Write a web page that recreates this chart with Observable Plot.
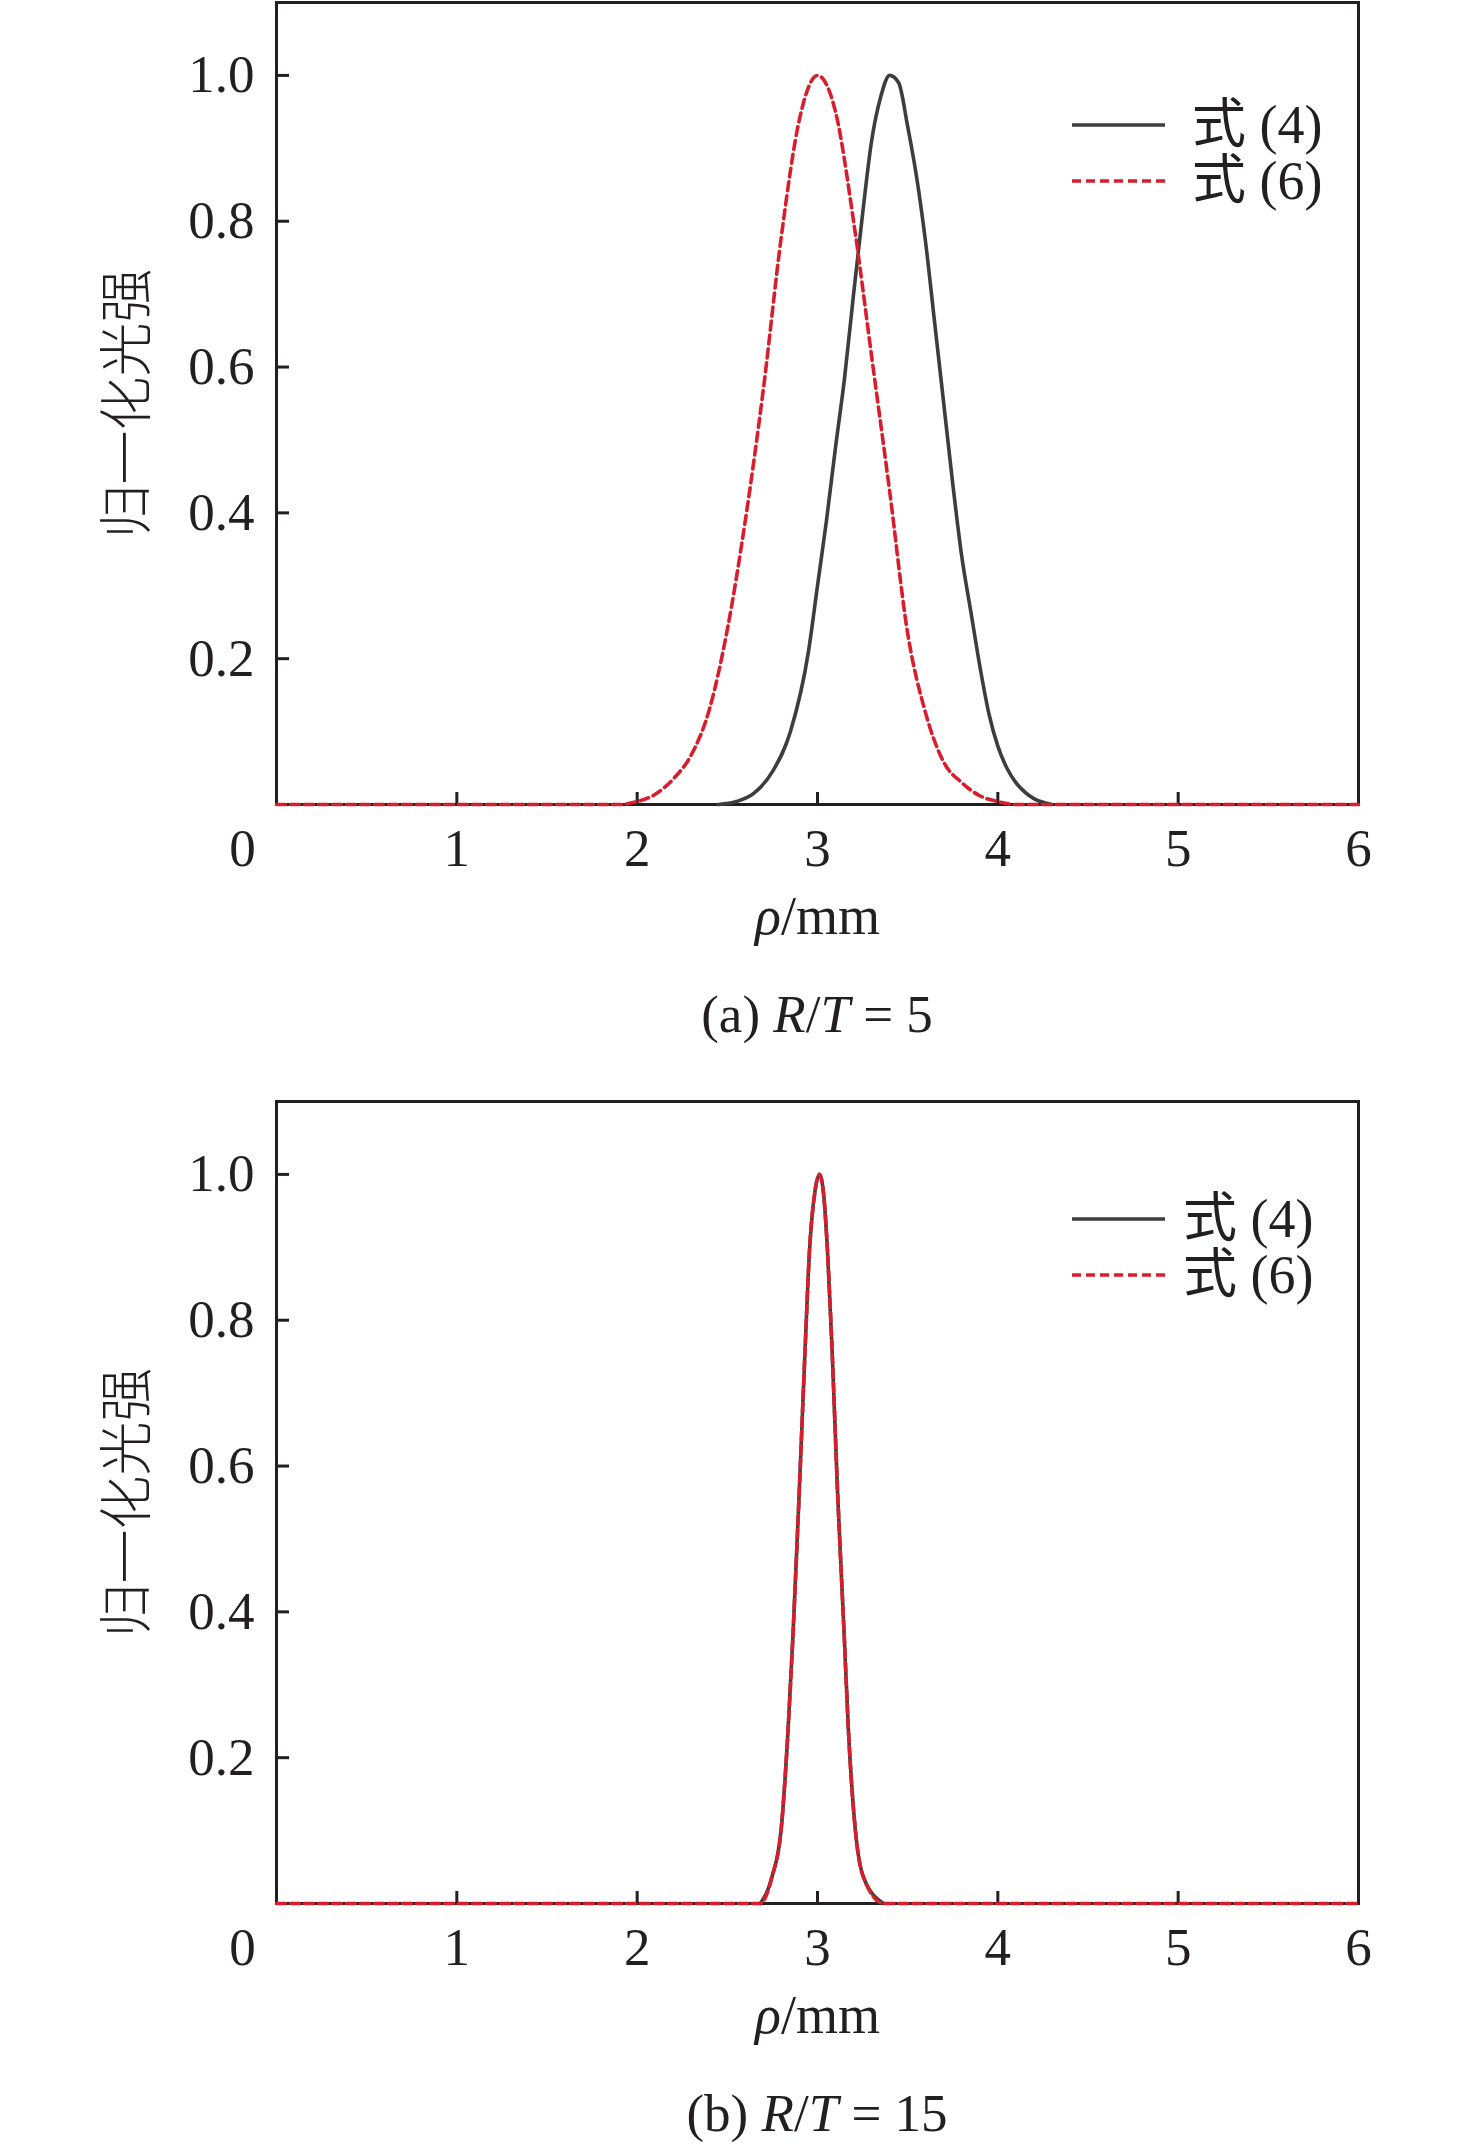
<!DOCTYPE html>
<html>
<head>
<meta charset="utf-8">
<script src="https://cdn.jsdelivr.net/npm/d3@7"></script>
<script src="https://cdn.jsdelivr.net/npm/@observablehq/plot@0.6"></script>
<style>
  html, body { margin: 0; padding: 0; background: #fff; }
  #root { width: 1476px; }
  .panel { position: relative; width: 1476px; }
  .caption { position: relative; width: 1476px; }
  .caption div { position: absolute; left: 276px; width: 1082px; text-align: center;
    font-family: "Liberation Serif", "Times New Roman", serif; font-size: 53px; line-height: 53px; color: #231f20; white-space: pre; }
  svg { display: block; }
</style>
</head>
<body>
<div id="root"></div>
<script>
// ---------- data ----------
const xTicks = [1, 2, 3, 4, 5, 6];
const xOrigin = [0];
const yTicks = [0.2, 0.4, 0.6, 0.8, 1.0];
const xLabel = "ρ/mm";
const yLabel = "归一化光强";
const seriesNames = ["式 (4)", "式 (6)"];

// (a) R/T = 5 — 式 (4)
const rhoA4 = [2.45, 2.55, 2.65, 2.75, 2.85, 2.95, 3.00, 3.05, 3.10, 3.15, 3.20, 3.25, 3.30, 3.35, 3.40, 3.45, 3.50, 3.55, 3.60, 3.65, 3.70, 3.75, 3.80, 3.85, 3.90, 3.95, 4.00, 4.05, 4.10, 4.15, 4.20, 4.30];
const valA4 = [0.000, 0.004, 0.016, 0.045, 0.100, 0.210, 0.300, 0.390, 0.490, 0.585, 0.700, 0.810, 0.910, 0.970, 1.000, 0.990, 0.930, 0.860, 0.770, 0.660, 0.550, 0.440, 0.340, 0.265, 0.190, 0.125, 0.080, 0.050, 0.030, 0.017, 0.008, 0.000];
// (a) R/T = 5 — 式 (6)
const rhoA6 = [0.0, 1.9, 2.0, 2.1, 2.2, 2.3, 2.4, 2.5, 2.6, 2.7, 2.8, 2.9, 3.0, 3.1, 3.2, 3.3, 3.4, 3.5, 3.6, 3.7, 3.8, 3.9, 4.0, 4.1, 6.0];
const valA6 = [0.000, 0.000, 0.004, 0.014, 0.035, 0.068, 0.130, 0.240, 0.390, 0.570, 0.780, 0.940, 1.000, 0.950, 0.800, 0.615, 0.430, 0.235, 0.125, 0.058, 0.030, 0.012, 0.004, 0.000, 0.000];
// (b) R/T = 15 — 式 (4)
const rhoB4 = [2.683, 2.747, 2.799, 2.836, 2.864, 2.899, 2.932, 2.956, 2.985, 3.011, 3.035, 3.055, 3.080, 3.111, 3.148, 3.172, 3.209, 3.255, 3.366];
const valB4 = [0.000, 0.036, 0.103, 0.235, 0.368, 0.566, 0.765, 0.897, 0.975, 1.000, 0.970, 0.897, 0.765, 0.566, 0.368, 0.235, 0.103, 0.036, 0.000];
// (b) R/T = 15 — 式 (6)
const rhoB6 = [0.0, 2.683, 2.747, 2.799, 2.836, 2.864, 2.899, 2.932, 2.956, 2.985, 3.011, 3.035, 3.055, 3.080, 3.111, 3.148, 3.172, 3.209, 3.255, 3.366, 6.0];
const valB6 = [0.000, 0.000, 0.036, 0.103, 0.235, 0.368, 0.566, 0.765, 0.897, 0.975, 1.000, 0.970, 0.897, 0.765, 0.566, 0.368, 0.235, 0.103, 0.036, 0.000, 0.000];

const panels = [
  { id: "a", s4: [rhoA4, valA4], s6: [rhoA6, valA6], caption: ["(a) ", "R", "/", "T", " = 5"],
    legend: { x1: 1072, x2: 1165, y: 125, dy: 56, tx: 1192 }, captionHeight: 139 },
  { id: "b", s4: [rhoB4, valB4], s6: [rhoB6, valB6], caption: ["(b) ", "R", "/", "T", " = 15"],
    legend: { x1: 1072, x2: 1165, y: 120, dy: 56, tx: 1183 }, captionHeight: 90 }
];

const INK = "#231f20";
const GRAY = "#3d3d3d";
const RED = "#d81e2c";
const SERIF = "'Liberation Serif', 'Times New Roman', 'Noto Sans CJK SC', serif";

const toRows = ([xs, ys]) => xs.map((x, i) => ({ x, y: ys[i] }));

const root = document.getElementById("root");

for (const p of panels) {
  const svg = Plot.plot({
    width: 1476,
    height: 960,
    marginLeft: 276,
    marginRight: 118,
    marginTop: 2,
    marginBottom: 156,
    x: { domain: [0, 6] },
    y: { domain: [0, 1.1] },
    style: { fontFamily: SERIF, fontSize: "53px", color: INK, background: "#fff", overflow: "visible" },
    marks: [
      Plot.frame({ stroke: INK, strokeWidth: 3 }),
      Plot.axisX(xTicks, { tickSize: -12, tickPadding: 36, strokeWidth: 3, label: null, tickFormat: d3.format("d") }),
      Plot.axisX(xOrigin, { tickSize: 0, tickPadding: 24, dx: -34, label: null, tickFormat: d3.format("d") }),
      Plot.axisY(yTicks, { tickSize: -13, tickPadding: 35, strokeWidth: 3, label: null, tickFormat: d3.format(".1f") }),
      Plot.line(toRows(p.s4), { x: "x", y: "y", stroke: GRAY, strokeWidth: 3.6, curve: "monotone-x" }),
      Plot.line(toRows(p.s6), { x: "x", y: "y", stroke: RED, strokeWidth: 3.6, strokeDasharray: "9,5", curve: "monotone-x" }),
      Plot.text([xLabel], { frameAnchor: "bottom", lineAnchor: "bottom", textAnchor: "middle", dy: 129, fontSize: 54, fill: INK }),
      Plot.text([yLabel], { frameAnchor: "left", textAnchor: "middle", lineAnchor: "middle", rotate: -90, dx: -148, fontSize: 54, fill: INK, fontFamily: "'Noto Sans CJK SC', sans-serif", fontWeight: 300 })
    ]
  });

  // italic ρ in x label
  d3.select(svg).selectAll("text").filter(function () { return this.textContent === xLabel; })
    .each(function () {
      const t = d3.select(this);
      t.text(null);
      t.append("tspan").attr("font-style", "italic").text("ρ");
      t.append("tspan").text("/mm");
    });

  // legend inside the plot frame
  const L = p.legend;
  const g = d3.select(svg).append("g").attr("font-family", SERIF).attr("font-size", 54).attr("fill", INK).attr("text-anchor", "start");
  const styles = [
    { stroke: GRAY, dash: null },
    { stroke: RED, dash: "9,5" }
  ];
  seriesNames.forEach((name, i) => {
    const y = L.y + i * L.dy;
    const ln = g.append("line").attr("x1", L.x1).attr("x2", L.x2).attr("y1", y).attr("y2", y)
      .attr("stroke", styles[i].stroke).attr("stroke-width", 3.6);
    if (styles[i].dash) ln.attr("stroke-dasharray", styles[i].dash);
    g.append("text").attr("x", L.tx).attr("y", y).attr("dy", "0.34em").attr("text-anchor", "start").text(name);
  });

  const panel = document.createElement("div");
  panel.className = "panel";
  panel.appendChild(svg);
  root.appendChild(panel);

  const cap = document.createElement("div");
  cap.className = "caption";
  cap.style.height = p.captionHeight + "px";
  const inner = document.createElement("div");
  inner.style.top = "28px";
  p.caption.forEach((part) => {
    const span = document.createElement("span");
    span.textContent = part;
    if (part === "R" || part === "T") span.style.fontStyle = "italic";
    inner.appendChild(span);
  });
  cap.appendChild(inner);
  root.appendChild(cap);
}
</script>
</body>
</html>
